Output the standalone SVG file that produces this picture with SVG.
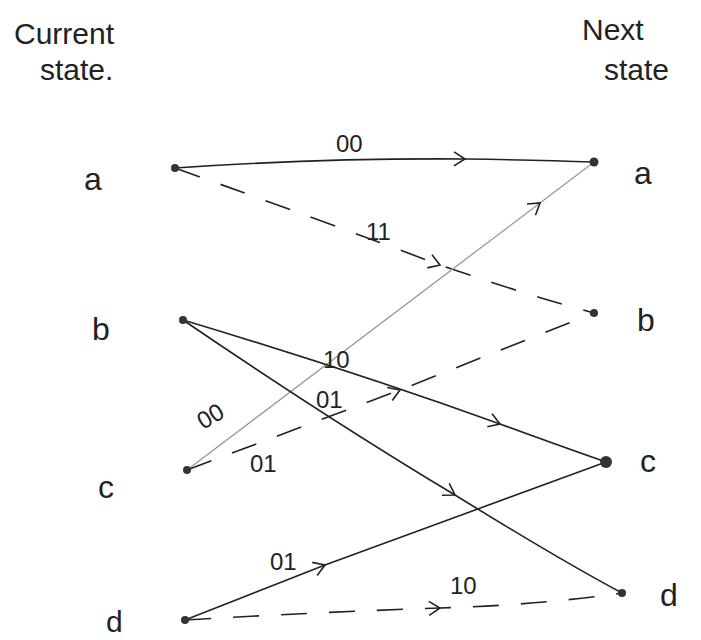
<svg xmlns="http://www.w3.org/2000/svg" width="701" height="640" viewBox="0 0 701 640">
  <style>
    .hand { font-family: "Liberation Sans", "DejaVu Sans", sans-serif; fill: #222; }
    .title { font-size: 30px; }
    .state { font-size: 32px; }
    .lbl { font-size: 24px; }
    .edge { fill: none; stroke: #222; stroke-width: 1.6; marker-mid: url(#chev); }
    .dash { stroke-dasharray: 26 22; }
    .faint { stroke: #999; stroke-width: 1.3; }
    .node { fill: #333; }
  </style>
  <defs>
    <marker id="chev" viewBox="-12 -8 14 16" markerWidth="14" markerHeight="16" markerUnits="userSpaceOnUse" orient="auto" overflow="visible">
      <path d="M-11,-7 L0,0 L-11,7" fill="none" stroke="#222" stroke-width="1.6"/>
    </marker>
  </defs>

  <rect width="701" height="640" fill="#fff"/>

  <!-- column headings -->
  <g id="head-current">
    <text class="hand title" x="14" y="44">Current</text>
    <text class="hand title" x="40" y="80">state.</text>
  </g>
  <g id="head-next">
    <text class="hand title" x="582" y="40">Next</text>
    <text class="hand title" x="604" y="80">state</text>
  </g>

  <!-- transitions -->
  <g id="connectors">
    <!-- a -> a -->
    <path class="edge" d="M175,168 Q320,158 465,159 Q540,160 594,162"/>
    <!-- a -> b -->
    <path class="edge dash" d="M175,168 Q320,220 440,265 Q530,296 594,313"/>
    <!-- c -> a -->
    <path class="edge faint" d="M187,470 L540,203 L594,162"/>
    <!-- b -> c -->
    <path class="edge" d="M183,320 Q350,370 500,424 Q560,446 606,462"/>
    <!-- b -> d -->
    <path class="edge" d="M183,320 Q330,420 455,495 Q560,560 622,593"/>
    <!-- c -> b -->
    <path class="edge dash" d="M187,470 L400,390 L594,313"/>
    <!-- d -> c -->
    <path class="edge" d="M185,620 L325,565 L606,462"/>
    <!-- d -> d -->
    <path class="edge dash" d="M185,620 Q320,612 440,608 Q540,605 622,593"/>
  </g>

  <!-- transition labels -->
  <g id="labels">
    <text class="hand lbl" x="336" y="152">00</text>
    <text class="hand lbl" x="366" y="240">11</text>
    <text class="hand lbl" x="323" y="368">10</text>
    <text class="hand lbl" x="316" y="408">01</text>
    <text class="hand lbl" x="203" y="430" transform="rotate(-30 203 430)">00</text>
    <text class="hand lbl" x="250" y="472">01</text>
    <text class="hand lbl" x="270" y="570">01</text>
    <text class="hand lbl" x="450" y="594">10</text>
  </g>

  <!-- current states -->
  <g id="cur-a"><text class="hand state" x="84" y="190">a</text><circle class="node" cx="175" cy="168" r="4"/></g>
  <g id="cur-b"><text class="hand state" x="92" y="340">b</text><circle class="node" cx="183" cy="320" r="4"/></g>
  <g id="cur-c"><text class="hand state" x="98" y="498">c</text><circle class="node" cx="187" cy="470" r="4"/></g>
  <g id="cur-d"><text class="hand state" x="106" y="632" style="font-size:30px">d</text><circle class="node" cx="185" cy="620" r="4"/></g>

  <!-- next states -->
  <g id="next-a"><circle class="node" cx="594" cy="162" r="4.5"/><text class="hand state" x="634" y="184">a</text></g>
  <g id="next-b"><circle class="node" cx="594" cy="313" r="4"/><text class="hand state" x="637" y="331">b</text></g>
  <g id="next-c"><circle class="node" cx="606" cy="462" r="6"/><text class="hand state" x="640" y="472">c</text></g>
  <g id="next-d"><circle class="node" cx="622" cy="593" r="4"/><text class="hand state" x="660" y="606">d</text></g>
</svg>
